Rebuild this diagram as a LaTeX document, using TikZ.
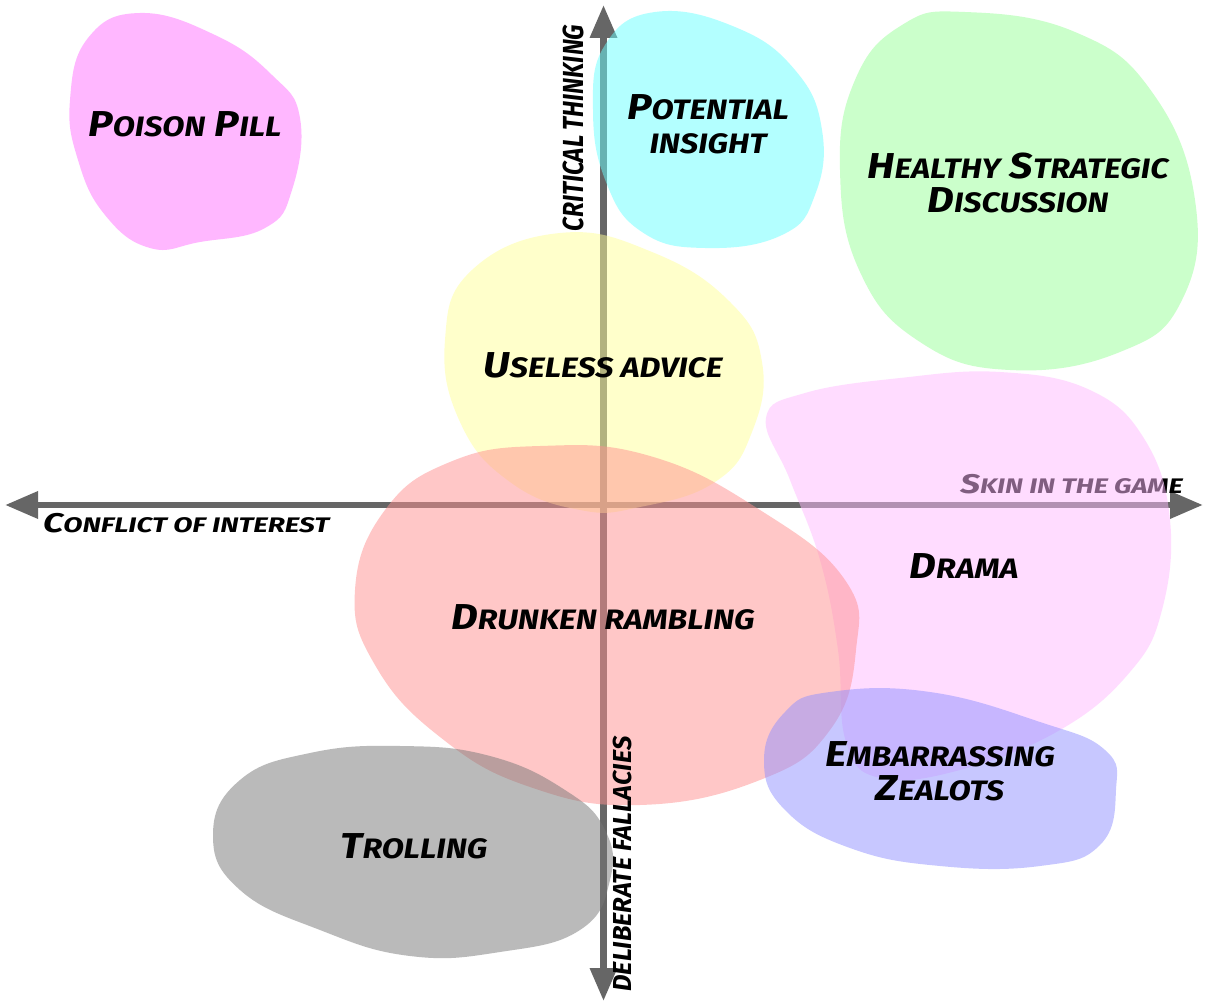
\documentclass[tikz,border=0pt]{standalone}
\usepackage{fontspec}
\usepackage{graphicx}
\IfFontExistsTF{FiraSans-MediumItalic.otf}
  {\newfontfamily\comic{FiraSans-MediumItalic.otf}}
  {\newfontfamily\comicraw{Fira Sans}\newcommand\comic{\comicraw\bfseries\itshape}}
\usetikzlibrary{arrows.meta}
\makeatletter
\newcommand\lowc[1]{{\fontsize{\the\dimexpr0.78\dimexpr\f@size pt\relax\relax}{0pt}\selectfont #1}}
\makeatother
\newcommand\wide[2][1.15]{\scalebox{#1}[1]{#2}}
\definecolor{cpoison}{RGB}{255,113,255}
\definecolor{cinsight}{RGB}{105,255,255}
\definecolor{chealthy}{RGB}{153,255,153}
\definecolor{cuseless}{RGB}{255,255,153}
\definecolor{cdrama}{RGB}{255,187,255}
\definecolor{cdrunk}{RGB}{255,145,145}
\definecolor{czeal}{RGB}{145,145,255}
\definecolor{ctroll}{RGB}{119,119,119}
\definecolor{axisgray}{RGB}{102,102,102}
\begin{document}
\begin{tikzpicture}[x=1pt,y=-1pt,
  axis/.style={draw=axisgray,line width=6.5pt,-{Triangle[length=33pt,width=26pt]}},
  blob/.style={fill opacity=0.5,draw=none},
  lab/.style={font=\comic\fontsize{36}{38}\selectfont,align=center,inner sep=0pt},
  axlab/.style={font=\comic\fontsize{27}{29}\selectfont,inner sep=0pt}]
\useasboundingbox[fill=white] (0,0) rectangle (1208,1008);
% axes
\coordinate (c) at (603.5,505);
\coordinate (l) at (5,505);
\coordinate (r) at (1203,505);
\coordinate (t) at (603.5,5);
\coordinate (b) at (603.5,1001);
\draw[axis] (c) -- (l);
\draw[axis] (c) -- (r);
\draw[axis] (c) -- (t);
\draw[axis] (c) -- (b);
\node[axlab,anchor=north west] (coi) at (43,513) {\wide[1.33]{C\lowc{ONFLICT OF INTEREST}}};
\node[axlab,anchor=base east] (skin) at (1183,493) {\wide[1.3]{S\lowc{KIN IN THE GAME}}};
\node[axlab,rotate=90,font=\comic\fontsize{29}{31}\selectfont] (crit) at (573,128) {\wide[0.84]{CRITICAL THINKING}};
% blobs
\fill[cpoison,blob] plot[smooth cycle,tension=0.75] coordinates {(140,13) (215,35) (272,75) (300,118) (292,190) (265,228) (200,242) (150,248) (105,215) (78,160) (70,100) (88,38)};
\fill[cinsight,blob] plot[smooth cycle,tension=0.75] coordinates {(655,12) (735,27) (795,70) (822,130) (815,195) (782,235) (705,248) (642,232) (606,182) (593,110) (605,45)};
\fill[chealthy,blob] plot[smooth cycle,tension=0.75] coordinates {(965,12) (1075,32) (1152,92) (1195,200) (1182,300) (1120,352) (1010,370) (920,342) (860,272) (840,170) (855,80) (902,25)};
\fill[cuseless,blob] plot[smooth cycle,tension=0.75] coordinates {(560,233) (652,252) (730,302) (762,362) (752,432) (715,482) (640,507) (580,510) (510,482) (460,422) (445,340) (472,270)};
\fill[cdrama,blob] plot[smooth cycle,tension=0.7] coordinates {(805,393) (900,378) (1000,372) (1090,390) (1145,440) (1170,520) (1162,610) (1130,672) (1060,730) (960,770) (880,778) (846,742) (838,650) (820,560) (790,480) (766,418)};
\fill[cdrunk,blob] plot[smooth cycle,tension=0.75] coordinates {(540,446) (650,456) (760,510) (845,580) (856,650) (830,730) (760,780) (640,805) (530,787) (440,737) (375,665) (355,590) (385,510) (450,462)};
\fill[czeal,blob] plot[smooth cycle,tension=0.75] coordinates {(830,692) (930,692) (1040,722) (1105,750) (1116,790) (1100,845) (1040,866) (940,866) (850,848) (785,810) (764,760) (785,712)};
\fill[ctroll,blob] plot[smooth cycle,tension=0.75] coordinates {(400,746) (490,756) (565,790) (605,830) (610,880) (580,930) (500,952) (410,956) (320,930) (240,890) (213,835) (240,780) (310,753)};
% labels
\node[axlab,rotate=90,font=\comic\fontsize{26}{28}\selectfont] (delib) at (622,864) {\wide[0.98]{DELIBERATE FALLACIES}};
\node[lab] (poison) at (185,124) {\wide{P\lowc{OISON} P\lowc{ILL}}};
\node[lab] (insight) at (708,124) {\wide{P\lowc{OTENTIAL}}\\[-4pt]\wide{\lowc{INSIGHT}}};
\node[lab] (healthy) at (1018,183) {\wide{H\lowc{EALTHY} S\lowc{TRATEGIC}}\\[-4pt]\wide{D\lowc{ISCUSSION}}};
\node[lab] (useless) at (603,365) {\wide{U\lowc{SELESS ADVICE}}};
\node[lab] (drunk) at (603,617) {\wide{D\lowc{RUNKEN RAMBLING}}};
\node[lab] (drama) at (964,566) {\wide{D\lowc{RAMA}}};
\node[lab] (zeal) at (940,771) {\wide{E\lowc{MBARRASSING}}\\[-4pt]\wide{Z\lowc{EALOTS}}};
\node[lab] (troll) at (414,846) {\wide{T\lowc{ROLLING}}};
\end{tikzpicture}
\end{document}
